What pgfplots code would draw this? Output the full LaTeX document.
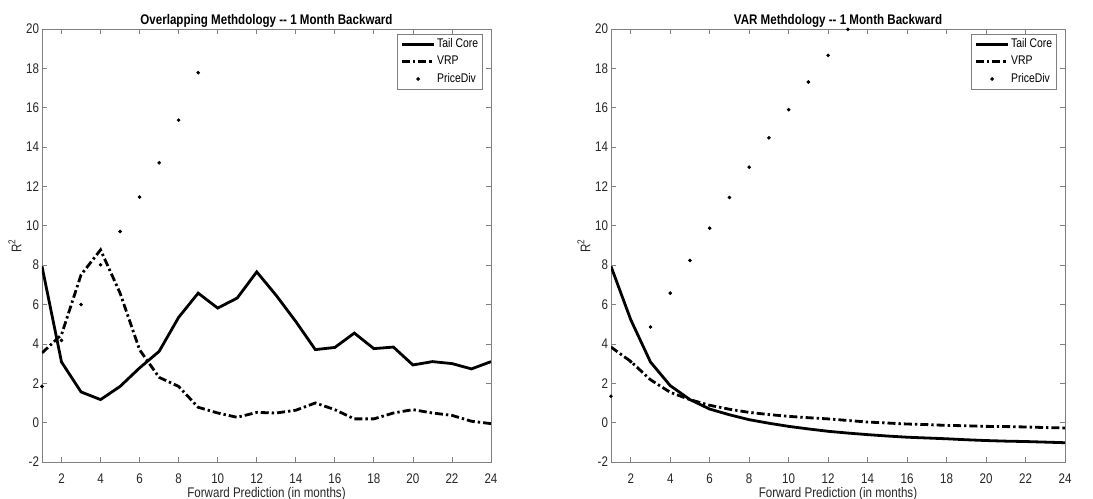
\documentclass[border=0pt]{standalone}
\usepackage{fontspec}
\setmainfont{Liberation Sans}[FakeStretch=0.83]
\usepackage{pgfplots}
\pgfplotsset{compat=1.18}
\definecolor{axgray}{RGB}{128,128,128}
\definecolor{txt}{RGB}{38,38,38}

\pgfplotsset{
  matlab/.style={
    scale only axis, height=216.5bp,
    xmin=1, xmax=24, ymin=-2, ymax=20,
    xtick={2,4,...,24}, ytick={-2,0,...,20},
    tick align=inside, major tick length=2.5bp,
    axis line style={axgray, line width=0.4bp},
    every tick/.style={axgray, line width=0.4bp},
    tick label style={font=\fontsize{7}{8}\selectfont, text=txt},
    xticklabel style={yshift=-2.5bp},
    yticklabel style={xshift=2bp},
    /pgf/number format/assume math mode=true,
    xlabel={Forward Prediction (in months)},
    ylabel={R\textsuperscript{2}},
    label style={font=\fontsize{7}{8}\selectfont, text=txt},
    xlabel style={at={(axis description cs:0.5,0)}, anchor=center, yshift=-16bp},
    ylabel style={at={(axis description cs:0,0.5)}, anchor=center, yshift=13.5bp},
    title style={font=\bfseries\fontsize{7}{8}\selectfont, yshift=-8.5bp},
    legend style={at={(1,1)}, anchor=north east, xshift=-4bp, yshift=-2.5bp,
      draw=axgray, line width=0.4bp, font=\fontsize{6.3}{7}\selectfont,
      inner sep=1.4bp, nodes={inner sep=0.8bp}, row sep=1bp},
    legend cell align=left,
    legend image code/.code={\draw[mark repeat=2,mark phase=2,##1]
      plot coordinates {(0bp,0bp) (8bp,0bp) (16bp,0bp)};},
  },
  tail/.style={black, line width=1.4bp},
  vrp/.style={black, line width=1.4bp, dash pattern=on 4bp off 1.5bp on 1.2bp off 1.5bp},
  pdiv/.style={black, only marks, mark=*, mark size=0.7bp},
}

\begin{document}
\begin{tikzpicture}
\useasboundingbox (-21bp,-18.5bp) rectangle (525.5bp,231bp);

\begin{axis}[matlab, width=224.5bp, at={(0,0)}, anchor=south west,
  title={Overlapping Methdology -{}- 1 Month Backward}]
\addplot[tail] coordinates {(1,7.94) (2,3.08) (3,1.56) (4,1.17) (5,1.84) (6,2.78)
  (7,3.62) (8,5.35) (9,6.58) (10,5.82) (11,6.33) (12,7.66) (13,6.46) (14,5.14)
  (15,3.71) (16,3.82) (17,4.55) (18,3.76) (19,3.84) (20,2.93) (21,3.10) (22,3.00)
  (23,2.73) (24,3.10)};
\addlegendentry{Tail Core}
\addplot[vrp] coordinates {(1,3.54) (2,4.47) (3,7.51) (4,8.78) (5,6.58) (6,3.70)
  (7,2.30) (8,1.84) (9,0.78) (10,0.49) (11,0.27) (12,0.52) (13,0.49) (14,0.63)
  (15,1.00) (16,0.66) (17,0.19) (18,0.19) (19,0.49) (20,0.66) (21,0.49) (22,0.37)
  (23,0.07) (24,-0.05)};
\addlegendentry{VRP}
\addplot[pdiv] coordinates {(1,1.84) (2,4.18) (3,6.00) (4,8.02) (5,9.71) (6,11.46)
  (7,13.20) (8,15.37) (9,17.78)};
\addlegendentry{PriceDiv}
\end{axis}

\begin{axis}[matlab, width=227bp, at={(284.5bp,0)}, anchor=south west,
  title={VAR Methdology -{}- 1 Month Backward}]
\addplot[tail] coordinates {(1,7.94) (2,5.23) (3,3.08) (4,1.88) (5,1.17) (6,0.69)
  (7,0.40) (8,0.15) (9,-0.03) (10,-0.19) (11,-0.32) (12,-0.44) (13,-0.53) (14,-0.61)
  (15,-0.68) (16,-0.74) (17,-0.78) (18,-0.82) (19,-0.87) (20,-0.91) (21,-0.94)
  (22,-0.96) (23,-0.99) (24,-1.02)};
\addlegendentry{Tail Core}
\addplot[vrp] coordinates {(1,3.84) (2,3.11) (3,2.18) (4,1.54) (5,1.17) (6,0.88)
  (7,0.68) (8,0.52) (9,0.41) (10,0.32) (11,0.25) (12,0.19) (13,0.11) (14,0.03)
  (15,-0.02) (16,-0.07) (17,-0.10) (18,-0.14) (19,-0.16) (20,-0.19) (21,-0.20)
  (22,-0.22) (23,-0.25) (24,-0.27)};
\addlegendentry{VRP}
\addplot[pdiv] coordinates {(1,1.34) (2,3.10) (3,4.86) (4,6.58) (5,8.24) (6,9.88)
  (7,11.44) (8,12.98) (9,14.47) (10,15.90) (11,17.31) (12,18.66) (13,19.98)};
\addlegendentry{PriceDiv}
\end{axis}
\end{tikzpicture}
\end{document}
